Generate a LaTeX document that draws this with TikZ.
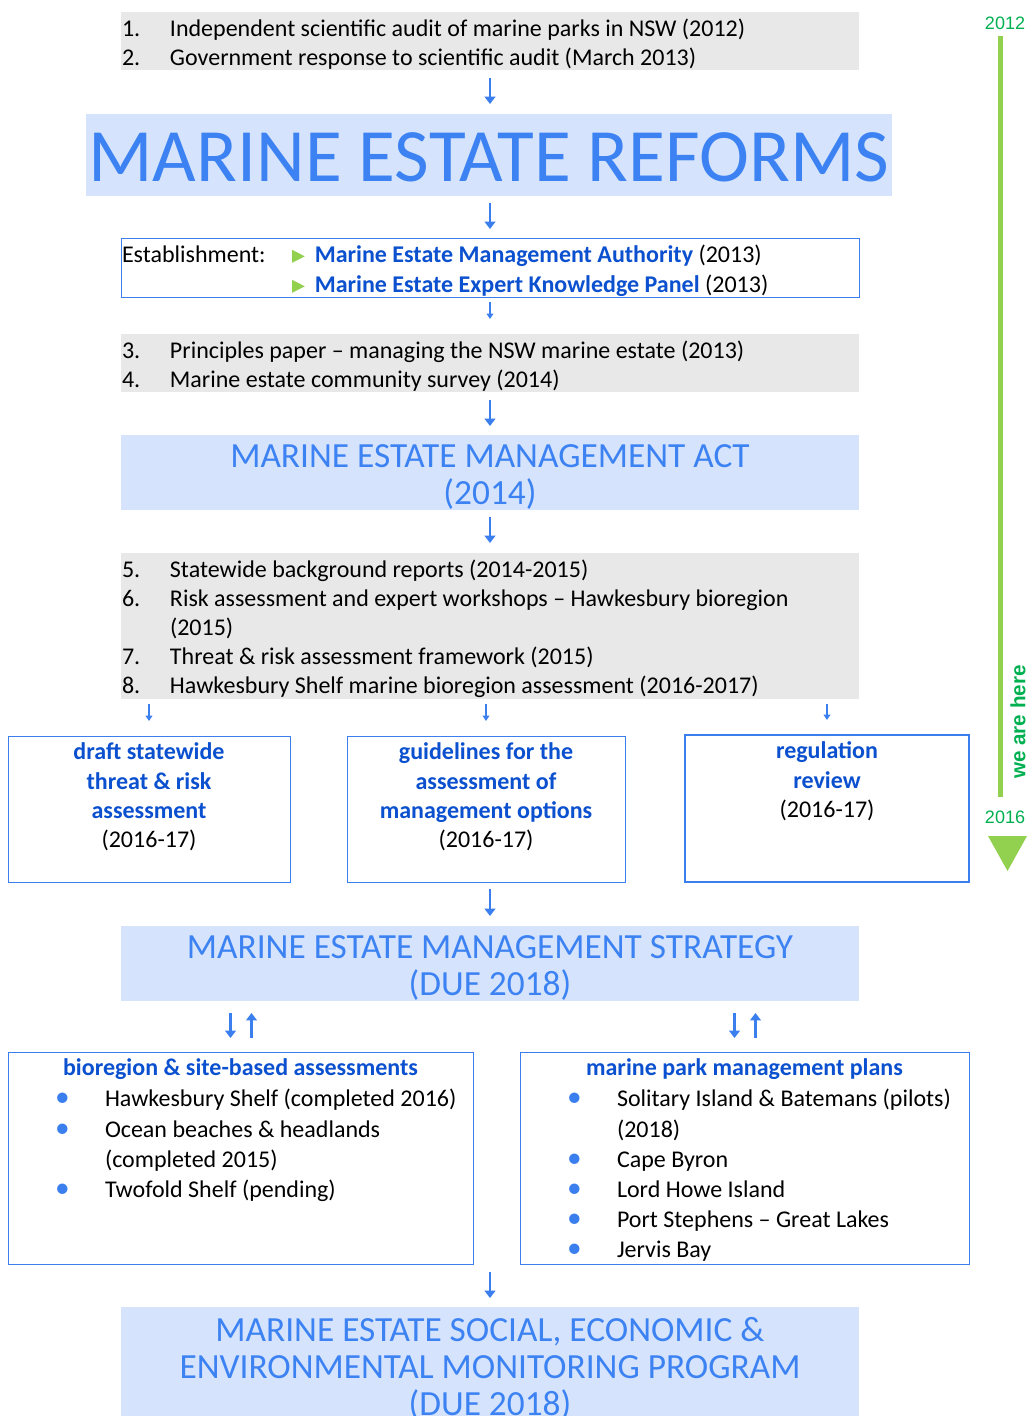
\documentclass[tikz,border=0pt]{standalone}
\usepackage{fontspec}
\setmainfont{Carlito}
\newfontfamily\arialfont{Liberation Sans}
\usetikzlibrary{arrows.meta,positioning}
\newdimen\pxu \pxu=0.75pt
\definecolor{headblue}{HTML}{3C82F2}
\definecolor{fillblue}{HTML}{D5E4FC}
\definecolor{boldblue}{HTML}{0B50CF}
\definecolor{lineblue}{HTML}{3B7FEF}
\definecolor{graybox}{HTML}{E8E8E8}
\definecolor{tlgreen}{HTML}{92D050}
\definecolor{txtgreen}{HTML}{00B050}
\newcommand{\numitem}[1]{\hspace*{1\pxu}\makebox[48\pxu][l]{#1}}
\newcommand{\gtri}{\tikz[baseline=0pt]\fill[tlgreen] (0pt,-0.6pt) -- (0pt,9.2pt) -- (9.6pt,4.3pt) -- cycle;}
\newcommand{\bb}[1]{\textcolor{boldblue}{\textbf{#1}}}
\newcommand{\bitem}[1]{\par\noindent\hspace*{47\pxu}\makebox[50\pxu][l]{\textcolor{lineblue}{\fontsize{22}{22}\selectfont•}}#1}
\newcommand{\bcont}[1]{\par\noindent\hspace*{97\pxu}#1}
\newcommand{\boxtext}[4][7\pxu]{\parbox[t][#3][t]{#2}{\vspace*{#1}#4}}

\begin{document}
\begin{tikzpicture}[x=0.75pt, y={(0,-0.75pt)},
  every node/.style={inner sep=0, outer sep=0, anchor=north west},
  body/.style={font=\fontsize{18}{21.75}\selectfont},
  graylist/.style={body, fill=graybox},
  headbox/.style={fill=fillblue, text=headblue, font=\fontsize{26.5}{27.75}\selectfont},
  stepbox/.style={draw=lineblue, line width=1\pxu, fill=white, font=\fontsize{18}{22}\selectfont},
  flow/.style={draw=lineblue, line width=2.5\pxu, -{Triangle[length=5.5pt,width=8pt]}},
  thinflow/.style={draw=lineblue, line width=1.3\pxu, -{Triangle[length=4pt,width=5pt]}},
  yeartxt/.style={anchor=center, text=txtgreen, font=\arialfont\fontsize{13.5}{13.5}\selectfont}]
\useasboundingbox (0,0) rectangle (1028,1416);
% Audit
\node[graylist] (audit) at (121,12)
  {\boxtext{738\pxu}{58\pxu}{\raggedright
   \numitem{1.}Independent scientific audit of marine parks in NSW (2012)\\
   \numitem{2.}Government response to scientific audit (March 2013)}};
% Reforms
\node[headbox, font=\fontsize{56.5}{56.5}\selectfont] (reforms) at (86,114)
  {\boxtext[19\pxu]{806\pxu}{82\pxu}{\centering MARINE ESTATE REFORMS}};
% Establishment
\node[stepbox, font=\fontsize{18}{22.5}\selectfont] (estab) at (121,238)
  {\boxtext[6.5\pxu]{738\pxu}{59\pxu}{\raggedright
   \hspace*{1\pxu}\makebox[170\pxu][l]{Establishment:}\gtri\hspace{10\pxu}\bb{Marine Estate Management Authority} (2013)\\
   \hspace*{171\pxu}\gtri\hspace{10\pxu}\bb{Marine Estate Expert Knowledge Panel} (2013)}};
% Principles and survey
\node[graylist] (principles) at (121,334)
  {\boxtext{738\pxu}{58\pxu}{\raggedright
   \numitem{3.}Principles paper -- managing the NSW marine estate (2013)\\
   \numitem{4.}Marine estate community survey (2014)}};
% Act
\node[headbox] (act) at (121,435)
  {\boxtext[10\pxu]{738\pxu}{75\pxu}{\centering MARINE ESTATE MANAGEMENT ACT\\(2014)}};
% Reports
\node[graylist] (reports) at (121,553)
  {\boxtext{738\pxu}{146\pxu}{\raggedright
   \numitem{5.}Statewide background reports (2014-2015)\\
   \numitem{6.}Risk assessment and expert workshops -- Hawkesbury bioregion\\
   \hspace*{49\pxu}(2015)\\
   \numitem{7.}Threat \& risk assessment framework (2015)\\
   \numitem{8.}Hawkesbury Shelf marine bioregion assessment (2016-2017)}};
% Three reviews
\node[stepbox] (threat) at (8,736)
  {\boxtext{282\pxu}{146\pxu}{\centering\bb{draft statewide}\\ \bb{threat \& risk}\\ \bb{assessment}\\ (2016-17)}};
\node[stepbox] (guide) at (347,736)
  {\boxtext{278\pxu}{146\pxu}{\centering\bb{guidelines for the}\\ \bb{assessment of}\\ \bb{management options}\\ (2016-17)}};
\node[stepbox, line width=2\pxu] (regul) at (685,735)
  {\boxtext{284\pxu}{147\pxu}{\centering\bb{regulation}\\ \bb{review}\\ (2016-17)}};
% Strategy
\node[headbox] (strategy) at (121,926)
  {\boxtext[10\pxu]{738\pxu}{75\pxu}{\centering MARINE ESTATE MANAGEMENT STRATEGY\\(DUE 2018)}};
% Assessments and plans
\node[stepbox, font=\fontsize{18}{22.6}\selectfont] (bio) at (8,1052)
  {\boxtext{465\pxu}{212\pxu}{{\centering\bb{bioregion \& site-based assessments}\par}
   \vspace{1\pxu}
   \bitem{Hawkesbury Shelf (completed 2016)}
   \bitem{Ocean beaches \& headlands}
   \bcont{(completed 2015)}
   \bitem{Twofold Shelf (pending)}}};
\node[stepbox, font=\fontsize{18}{22.6}\selectfont] (plans) at (520,1052)
  {\boxtext{449\pxu}{212\pxu}{{\centering\bb{marine park management plans}\par}
   \vspace{1\pxu}
   \bitem{Solitary Island \& Batemans (pilots)}
   \bcont{(2018)}
   \bitem{Cape Byron}
   \bitem{Lord Howe Island}
   \bitem{Port Stephens -- Great Lakes}
   \bitem{Jervis Bay}}};
% Monitoring
\node[headbox] (monitor) at (121,1307)
  {\boxtext[10\pxu]{738\pxu}{118\pxu}{\centering MARINE ESTATE SOCIAL, ECONOMIC \&\\ENVIRONMENTAL MONITORING PROGRAM\\(DUE 2018)}};
% Arrows
\draw[flow, shorten <=8\pxu, shorten >=10\pxu] (audit.south) -- (audit.south |- reforms.north);
\draw[flow, shorten <=7\pxu, shorten >=9\pxu] (estab.north |- reforms.south) -- (estab.north);
\draw[thinflow, shorten <=5\pxu, shorten >=15\pxu] (estab.south) -- (principles.north);
\draw[flow, shorten <=8\pxu, shorten >=9\pxu] (principles.south) -- (act.north);
\draw[flow, shorten <=7\pxu, shorten >=10\pxu] (act.south) -- (reports.north);
\foreach \b in {threat,guide,regul}
  \draw[thinflow, shorten <=5\pxu, shorten >=15\pxu] (reports.south -| \b.north) -- (\b.north);
\draw[flow, shorten <=7\pxu, shorten >=10\pxu] (strategy.north |- guide.south) -- (strategy.north);
\foreach \b in {bio,plans} {
  \draw[flow, shorten <=12\pxu, shorten >=14\pxu]
    ([xshift=-10\pxu]strategy.south -| \b.north) -- ([xshift=-10\pxu]\b.north);
  \draw[flow, shorten <=14\pxu, shorten >=12\pxu]
    ([xshift=11\pxu]\b.north) -- ([xshift=11\pxu]strategy.south -| \b.north);
}
\draw[flow, shorten <=8\pxu, shorten >=9\pxu] (monitor.north |- bio.south) -- (monitor.north);
% Timeline
\coordinate (tltop) at (1000,36);
\coordinate (tlend) at (1000,797);
\draw[tlgreen, line width=5\pxu] (tltop) -- (tlend);
\node[yeartxt] (y2012) at (1005,23) {2012};
\node[yeartxt] (y2016) at (1005,817) {2016};
\fill[tlgreen] (988,836) -- (1027,836) -- (1007.5,871) -- cycle;
\node[anchor=center, rotate=90, text=txtgreen, font=\arialfont\bfseries\fontsize{15.5}{15.5}\selectfont]
  (here) at (1018,722) {we are here};
\end{tikzpicture}
\end{document}
